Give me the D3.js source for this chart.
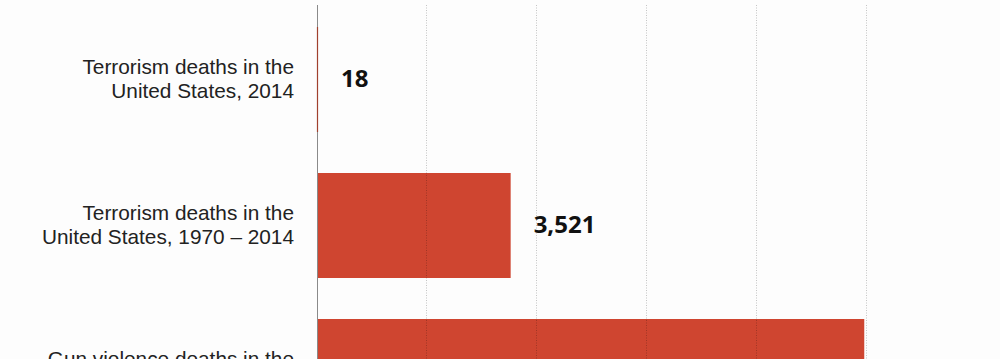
<!DOCTYPE html>
<html>
<head>
<meta charset="utf-8">
<script src="https://cdn.jsdelivr.net/npm/d3@7"></script>
<style>
  html, body { margin: 0; padding: 0; background: #fdfdfd; }
  svg { display: block; }
</style>
</head>
<body>
<div id="chart"></div>
<script>
// chart values
const categories = [
  'Terrorism deaths in the|United States, 2014',
  'Terrorism deaths in the|United States, 1970 – 2014',
  'Gun violence deaths in the|United States, 2014'
];
const deaths = [18, 3521, 9950];
const valueLabels = ['18', '3,521', '9,950'];
const gridTicks = [2000, 4000, 6000, 8000, 10000];

const width = 1000;
const height = 359;

const svg = d3.select('#chart')
  .append('svg')
  .attr('width', width)
  .attr('height', height);

svg.append('rect')
  .attr('width', width).attr('height', height)
  .attr('fill', '#fdfdfd');

const x = d3.scaleLinear()
  .domain([0, 10000])
  .range([317, 867]);

const y = d3.scaleBand()
  .domain(categories)
  .range([27, 424])
  .paddingInner(41 / 146)
  .paddingOuter(0);

// bars
svg.append('g')
  .selectAll('rect')
  .data(deaths)
  .join('rect')
  .attr('x', x(0))
  .attr('y', (d, i) => y(categories[i]))
  .attr('width', d => Math.max(1, x(d) - x(0)))
  .attr('height', y.bandwidth())
  .attr('fill', '#cf4530');

// dotted gridlines, drawn over the bars so they show faintly through
svg.append('g')
  .selectAll('line')
  .data(gridTicks)
  .join('line')
  .attr('x1', d => Math.round(x(d)) - 0.5)
  .attr('x2', d => Math.round(x(d)) - 0.5)
  .attr('y1', 5)
  .attr('y2', height)
  .attr('stroke', '#000')
  .attr('stroke-opacity', 0.22)
  .attr('stroke-width', 1)
  .attr('stroke-dasharray', '1,1.5');

// zero axis
svg.append('line')
  .attr('x1', x(0) + 0.5).attr('x2', x(0) + 0.5)
  .attr('y1', 5).attr('y2', height)
  .attr('stroke', '#8a8a8a')
  .attr('stroke-width', 1);

// first bar is only 1px wide, redraw it over the axis
svg.append('line')
  .attr('x1', x(0) + 0.5).attr('x2', x(0) + 0.5)
  .attr('y1', y(categories[0]))
  .attr('y2', y(categories[0]) + y.bandwidth())
  .attr('stroke', '#a0402e')
  .attr('stroke-width', 1.2);

// category labels, two lines each
const labels = svg.append('g')
  .selectAll('text')
  .data(categories)
  .join('text')
  .attr('x', 294)
  .attr('y', d => y(d) + y.bandwidth() / 2 - 6)
  .attr('text-anchor', 'end')
  .attr('font-family', '"Liberation Sans", Arial, sans-serif')
  .attr('font-size', 20.8)
  .attr('fill', '#222');

labels.each(function(d) {
  const lines = d.split('|');
  const t = d3.select(this);
  lines.forEach((ln, i) => {
    t.append('tspan')
      .attr('x', 294)
      .attr('dy', i === 0 ? 0 : 24)
      .text(ln);
  });
});

// value labels
svg.append('g')
  .selectAll('text')
  .data(deaths)
  .join('text')
  .attr('x', d => x(d) + 23)
  .attr('y', (d, i) => y(categories[i]) + y.bandwidth() / 2)
  .attr('dy', '0.33em')
  .attr('font-family', '"Open Sans", "Liberation Sans", sans-serif')
  .attr('font-weight', 700)
  .attr('font-size', 24)
  .attr('fill', '#111')
  .text((d, i) => valueLabels[i]);
</script>
</body>
</html>
